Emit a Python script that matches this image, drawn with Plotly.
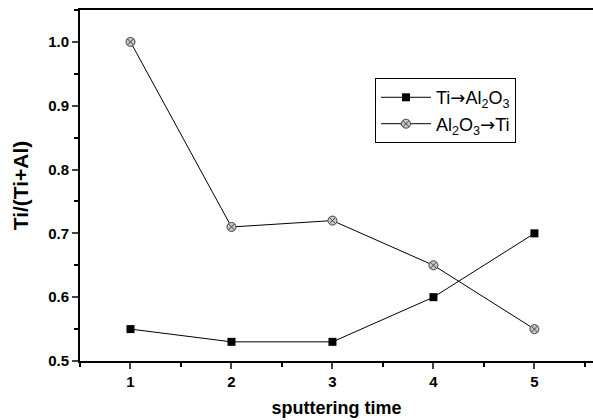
import plotly.graph_objects as go

sputtering_time = [1, 2, 3, 4, 5]
ti_to_al2o3 = [0.55, 0.53, 0.53, 0.60, 0.70]
al2o3_to_ti = [1.00, 0.71, 0.72, 0.65, 0.55]
x_ticks = [1, 2, 3, 4, 5]
y_ticks = [0.5, 0.6, 0.7, 0.8, 0.9, 1.0]

ARROW = "<span style='font-family:DejaVu Sans'>\u2192</span>"

fig = go.Figure()
fig.add_trace(go.Scatter(
    x=sputtering_time, y=ti_to_al2o3, mode="lines+markers",
    name="Ti" + ARROW + "Al<sub>2</sub>O<sub>3</sub>",
    line=dict(color="black", width=1),
    marker=dict(symbol="square", size=8, color="black"),
))
fig.add_trace(go.Scatter(
    x=sputtering_time, y=al2o3_to_ti, mode="lines+markers",
    name="Al<sub>2</sub>O<sub>3</sub>" + ARROW + "Ti",
    line=dict(color="black", width=1),
    marker=dict(symbol="circle-x", size=9, color="#c8c8c8",
                line=dict(color="#444444", width=1)),
))

FAM = "Arial, Liberation Sans, sans-serif"
fig.update_layout(
    width=593, height=420,
    margin=dict(l=80, r=0, t=10, b=59),
    paper_bgcolor="white", plot_bgcolor="white",
    font=dict(family=FAM, color="black"),
    legend=dict(x=0.575, y=0.806, xanchor="left", yanchor="top",
                bordercolor="black", borderwidth=1, bgcolor="white",
                font=dict(size=18, family=FAM),
                tracegroupgap=0, itemwidth=50),
    xaxis=dict(range=[0.5, 5.58], tickvals=x_ticks, ticks="outside",
               ticklen=6, tickwidth=1.5, showline=True, linewidth=2,
               linecolor="black", mirror=True, showgrid=False, zeroline=False,
               tickfont=dict(size=15, family=FAM, weight="bold"),
               minor=dict(dtick=0.5, ticks="outside", ticklen=4, tickwidth=1.5, tickcolor="black"),
               title=dict(text="sputtering time", font=dict(size=18, weight="bold"), standoff=12)),
    yaxis=dict(range=[0.5, 1.05], tickvals=y_ticks, ticks="outside",
               ticklen=6, tickwidth=1.5, showline=True, linewidth=2,
               linecolor="black", mirror=False, showgrid=False, zeroline=False,
               tickformat=".1f",
               tickfont=dict(size=15, family=FAM, weight="bold"),
               minor=dict(dtick=0.05, ticks="outside", ticklen=4, tickwidth=1.5, tickcolor="black"),
               title=dict(text="Ti/(Ti+Al)", font=dict(size=21, weight="bold"), standoff=14)),
)
fig.write_html("out.html", config={"displayModeBar": False},
               post_script="document.body.style.margin='0';")
